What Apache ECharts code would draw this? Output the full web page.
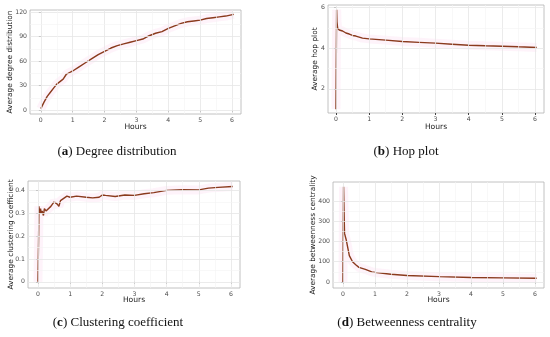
<!DOCTYPE html>
<html><head><meta charset="utf-8">
<script src="https://cdn.jsdelivr.net/npm/echarts@6/dist/echarts.min.js"></script>
<style>html,body{margin:0;padding:0;background:#fff}#c{width:550px;height:337px}</style>
</head><body><div id="c"></div>
<script>
// ---- data ----
const degreeHours = [0,0.1,0.2,0.3,0.4,0.5,0.6,0.7,0.8,1.0,1.2,1.4,1.6,1.8,2.0,2.2,2.4,2.6,2.8,3.0,3.2,3.4,3.6,3.8,4.0,4.2,4.4,4.6,4.8,5.0,5.2,5.4,5.6,5.8,6.05];
const degreeValues = [2,10,17,22,27,32,35,38,44,48,53,58,63,68,72,76,79,81,83,85,87,91,94,96,100,103,106,108,109,110,112,113,114,115,117];

const hopHours = [0,0.02,0.03,0.05,0.1,0.2,0.3,0.4,0.5,0.6,0.7,0.8,1.0,1.5,2.0,2.5,3.0,3.5,4.0,4.5,5.0,5.5,6.05];
const hopValues = [1.0,5.9,5.3,5.0,4.9,4.85,4.75,4.7,4.63,4.6,4.55,4.5,4.46,4.4,4.33,4.29,4.25,4.2,4.15,4.12,4.1,4.07,4.04];

const clusterHours = [0,0.02,0.03,0.05,0.08,0.1,0.13,0.17,0.2,0.25,0.3,0.4,0.5,0.6,0.65,0.7,0.8,0.9,1.0,1.2,1.5,1.7,1.9,2.0,2.1,2.4,2.7,3.0,3.3,3.6,4.0,4.5,5.0,5.3,5.6,6.05];
const clusterValues = [0,0.2,0.33,0.3,0.32,0.3,0.31,0.29,0.32,0.31,0.31,0.33,0.35,0.34,0.33,0.355,0.365,0.375,0.37,0.375,0.37,0.367,0.37,0.38,0.378,0.373,0.38,0.378,0.385,0.39,0.4,0.403,0.402,0.41,0.413,0.417];

const betweenHours = [0,0.02,0.05,0.1,0.2,0.3,0.4,0.5,0.7,0.9,1.0,1.5,2.0,3.0,4.0,5.0,6.05];
const betweenValues = [0,470,240,210,130,100,85,72,62,50,47,38,32,26,22,20,18];

const hourTicks = [0,1,2,3,4,5,6];
const captions = ['Degree distribution','Hop plot','Clustering coefficient','Betweenness centrality'];
const captionLetters = ['a','b','c','d'];
const yTitles = ['Average degree distribution','Average hop plot','Average clustering coefficient','Average betweenness centrality'];
const yTickSets = [[0,30,60,90,120],[2,4,6],[0,0.1,0.2,0.3,0.4],[0,100,200,300,400]];

// ---- layout ----
const grids = [
  {left:30, top:10, width:211, height:104},
  {left:328, top:5, width:216, height:108},
  {left:28, top:181, width:212, height:107},
  {left:333, top:182, width:211, height:106}
];
const xRanges = [[-0.34,6.28],[-0.24,6.27],[-0.31,6.28],[-0.31,6.28]];
const yRanges = [
  {min:-4.5,max:122.4},
  {min:0.81,max:6.13},
  {min:-0.027,max:0.441},
  {min:-30,max:494}
];
const xs = [degreeHours,hopHours,clusterHours,betweenHours];
const ys = [degreeValues,hopValues,clusterValues,betweenValues];
const yGaps = [16,9,13,16];
const xGaps = [9,10,8,8];

const option = {
  animation:false,
  grid: grids.map(g=>Object.assign({show:true,borderColor:'#b3b3b3',borderWidth:0.8,backgroundColor:'#fff'},g)),
  xAxis: grids.map((g,i)=>({
    type:'value', gridIndex:i, min:xRanges[i][0], max:xRanges[i][1],
    axisLine:{show:false}, axisTick:{show:true,length:2,lineStyle:{color:'#444'},customValues:hourTicks},
    axisLabel:{fontSize:6.2,color:'#4d4d4d',margin:3,fontFamily:'DejaVu Sans',customValues:hourTicks},
    splitLine:{show:false}, nameMoveOverlap:false,
    name:'Hours', nameLocation:'middle', nameGap:xGaps[i],
    nameTextStyle:{fontSize:7.6,color:'#1a1a1a',fontFamily:'DejaVu Sans',verticalAlign:'top'}
  })),
  yAxis: grids.map((g,i)=>({
    type:'value', gridIndex:i, min:yRanges[i].min, max:yRanges[i].max,
    axisLine:{show:false}, axisTick:{show:true,length:2,lineStyle:{color:'#444'},customValues:yTickSets[i]},
    axisLabel:{fontSize:6.2,color:'#4d4d4d',margin:3,fontFamily:'DejaVu Sans',customValues:yTickSets[i]},
    splitLine:{show:false}, nameMoveOverlap:false,
    name:yTitles[i], nameLocation:'middle', nameGap:yGaps[i],
    nameTextStyle:{fontSize:7.4,color:'#1a1a1a',fontFamily:'DejaVu Sans'}
  })),
  series: [],
  graphic: []
};
grids.forEach((g,i)=>{
  const yt=yTickSets[i];
  const minorY=[]; for(let k=0;k<yt.length-1;k++){minorY.push((yt[k]+yt[k+1])/2);}
  const minorX=[]; for(let k=0;k<hourTicks.length-1;k++){minorX.push(hourTicks[k]+0.5);}
  option.series.push({
    type:'line', xAxisIndex:i, yAxisIndex:i, silent:true, symbol:'none', data:[], z:1,
    markLine:{silent:true,symbol:'none',label:{show:false},animation:false,
      data:[].concat(
        yt.map(v=>({yAxis:v,lineStyle:{color:'#e6e6e6',width:0.8,type:'solid'}})),
        hourTicks.map(v=>({xAxis:v,lineStyle:{color:'#e6e6e6',width:0.8,type:'solid'}})),
        minorY.map(v=>({yAxis:v,lineStyle:{color:'#f3f3f3',width:0.6,type:'solid'}})),
        minorX.map(v=>({xAxis:v,lineStyle:{color:'#f3f3f3',width:0.6,type:'solid'}}))
      )}
  });
  const pts = xs[i].map((x,k)=>[x,ys[i][k]]);
  option.series.push({
    type:'line', xAxisIndex:i, yAxisIndex:i, silent:true, symbol:'none', z:2,
    data: pts, lineStyle:{color:'rgba(252,222,240,0.35)',width:9}
  });
  option.series.push({
    type:'line', xAxisIndex:i, yAxisIndex:i, symbol:'none', z:4,
    data: pts, lineStyle:{color:'#8a3a1d',width:1.4}
  });
});
// captions
const capPos = [[117,152],[406,152],[118,323],[407,323]];
capPos.forEach((p,i)=>{
  option.graphic.push({
    type:'text', x:p[0], y:p[1],
    style:{
      text:'({b|'+captionLetters[i]+'}) '+captions[i],
      rich:{b:{fontWeight:'bold',fontSize:13,fontFamily:'Liberation Serif',fill:'#111'}},
      fontSize:13, fontFamily:'Liberation Serif', fill:'#111', align:'center', verticalAlign:'middle'
    }
  });
});
const chart = echarts.init(document.getElementById('c'),null,{renderer:'canvas'});
chart.setOption(option);
</script></body></html>
